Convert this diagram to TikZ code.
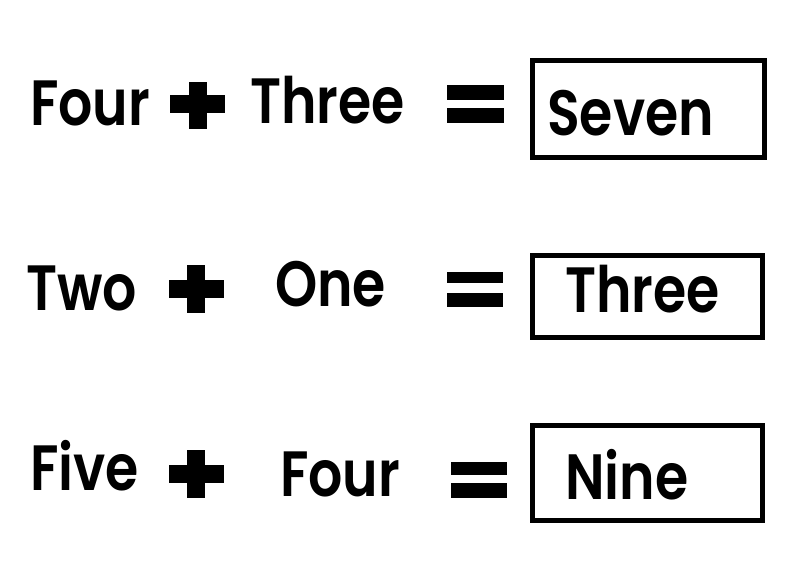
\documentclass[tikz,border=0pt]{standalone}
\usepackage{fontspec}
\setmainfont{Poppins}[FakeStretch=0.84,BoldFont={Poppins SemiBold}]
\usepackage{tikz}
\usetikzlibrary{positioning}

\tikzset{
	word/.style={anchor=base west,inner sep=0pt,font=\fontsize{64}{64}\selectfont\bfseries},
	answerbox/.style={draw,line width=5pt,inner sep=0pt}
}

\begin{document}
\begin{tikzpicture}[x=1pt,y=-1pt]

	\useasboundingbox (0,0) rectangle (802,581);

	% first line
	\node[word] (four1) at (30,125) {Four};
	\fill (189,82) rectangle (207,129);
	\fill (170,95) rectangle (225,113);
	\node[word] (three1) at (250,123) {Three};
	\fill (447,85) rectangle (504,100);
	\fill (447,108) rectangle (504,123);
	\node[answerbox,minimum width=232pt,minimum height=97pt] (box1) at (648.5,109) {};
	\node[word] (seven) at (547,135) {Seven};

	% second line
	\node[word] (two) at (26,310) {Two};
	\fill (187,265) rectangle (205,313);
	\fill (169,280) rectangle (224,298);
	\node[word] (one) at (275,306) {One};
	\fill (447,272) rectangle (503,283);
	\fill (447,293) rectangle (503,307);
	\node[answerbox,minimum width=230pt,minimum height=82pt] (box2) at (647.5,296.5) {};
	\node[word] (three2) at (565,312) {Three};

	% third line
	\node[word] (five) at (30,490) {Five};
	\fill (187,450) rectangle (205,498);
	\fill (169,465) rectangle (224,483);
	\node[word] (four2) at (280,496) {Four};
	\fill (451,462) rectangle (507,475);
	\fill (451,483) rectangle (507,498);
	\node[answerbox,minimum width=230pt,minimum height=95pt] (box3) at (647.5,473) {};
	\node[word] (nine) at (565,499) {Nine};

\end{tikzpicture}
\end{document}
